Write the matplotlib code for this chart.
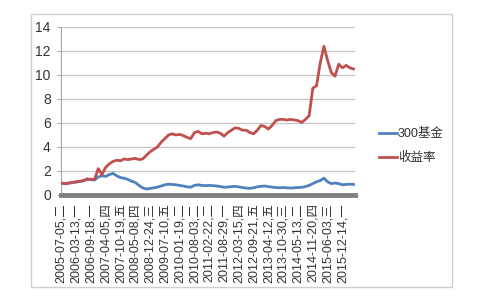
import matplotlib
matplotlib.use("Agg")
import matplotlib.pyplot as plt
import matplotlib.patches as patches

plt.rcParams['font.family'] = ['Liberation Sans', 'Noto Sans CJK SC', 'DejaVu Sans']

# tick labels (one every 4 points)
date_labels = ["2005-07-05,二", "2006-03-13,一", "2006-09-18,一", "2007-04-05,四",
               "2007-10-19,五", "2008-05-08,四", "2008-12-24,三", "2009-07-10,五",
               "2010-01-19,二", "2010-08-03,二", "2011-02-22,二", "2011-08-29,一",
               "2012-03-15,四", "2012-09-21,五", "2013-04-12,五", "2013-10-30,三",
               "2014-05-13,二", "2014-11-20,四", "2015-06-03,三", "2015-12-14,一"]
label_step = 4

# series
fund_300 = [0.98, 0.93, 0.98, 1.03, 1.08, 1.12, 1.18, 1.30, 1.28, 1.25,
            1.50, 1.60, 1.55, 1.70, 1.80, 1.60, 1.45, 1.40, 1.30, 1.15,
            1.05, 0.80, 0.60, 0.50, 0.55, 0.60, 0.65, 0.75, 0.85, 0.90,
            0.88, 0.85, 0.80, 0.75, 0.68, 0.65, 0.80, 0.85, 0.80, 0.78,
            0.80, 0.78, 0.75, 0.70, 0.65, 0.66, 0.70, 0.72, 0.68, 0.62,
            0.58, 0.56, 0.60, 0.68, 0.72, 0.75, 0.70, 0.66, 0.62, 0.60,
            0.62, 0.60, 0.58, 0.60, 0.62, 0.64, 0.70, 0.80, 0.95, 1.10,
            1.20, 1.40, 1.10, 0.95, 1.00, 0.95, 0.85, 0.88, 0.90, 0.88]
returns = [1.00, 0.95, 1.00, 1.05, 1.10, 1.15, 1.20, 1.35, 1.30, 1.30,
           2.20, 1.70, 2.30, 2.60, 2.80, 2.90, 2.85, 3.00, 2.95, 3.00,
           3.05, 2.95, 3.00, 3.30, 3.60, 3.80, 4.00, 4.40, 4.70, 5.00,
           5.10, 5.00, 5.05, 4.95, 4.80, 4.70, 5.20, 5.30, 5.10, 5.15,
           5.10, 5.20, 5.25, 5.15, 4.90, 5.20, 5.40, 5.60, 5.55, 5.40,
           5.40, 5.20, 5.10, 5.40, 5.80, 5.70, 5.50, 5.80, 6.20, 6.30,
           6.30, 6.25, 6.30, 6.25, 6.20, 6.05, 6.30, 6.60, 8.90, 9.10,
           11.00, 12.40, 11.20, 10.20, 9.90, 10.90, 10.60, 10.80, 10.60, 10.50]

fig = plt.figure(figsize=(5, 3), dpi=100)
fig.patch.set_facecolor('white')

# outer chart border
box = patches.Rectangle((0.061, 0.044), 0.843, 0.91, transform=fig.transFigure,
                        fill=False, edgecolor='#cfcfcf', linewidth=1.0)
fig.patches.append(box)

ax = fig.add_axes([0.121, 0.35, 0.589, 0.56])
x = list(range(len(fund_300)))
ax.plot(x, fund_300, color='#4f81bd', linewidth=2.0, label='300基金', zorder=3)
ax.plot(x, returns, color='#c0504d', linewidth=2.0, label='收益率', zorder=4)

ax.set_ylim(0, 14)
ax.set_xlim(-0.2, len(x) - 0.6)
ax.set_yticks(range(0, 15, 2))
ax.grid(axis='y', color='#c4c4c4', linewidth=0.9)
ax.set_axisbelow(True)

for side in ['top', 'right', 'bottom']:
    ax.spines[side].set_visible(False)
ax.spines['left'].set_color('#a6a6a6')
ax.axhline(0, color='#7f7f7f', linewidth=3.5, clip_on=False, zorder=5)

ax.set_xticks(range(0, len(date_labels) * label_step, label_step))
ax.set_xticklabels(date_labels, rotation=90, fontsize=9, color='#333333')
ax.tick_params(axis='x', length=0, pad=6)
ax.tick_params(axis='y', labelsize=10, colors='#333333', color='#a6a6a6', length=3, pad=4)

ax.legend(loc='center left', bbox_to_anchor=(1.08, 0.29), frameon=False,
          fontsize=9, handlelength=1.5, handletextpad=0.05, labelspacing=0.95,
          borderpad=0, borderaxespad=0, labelcolor='#333333')

fig.savefig('out.png', dpi=100)
